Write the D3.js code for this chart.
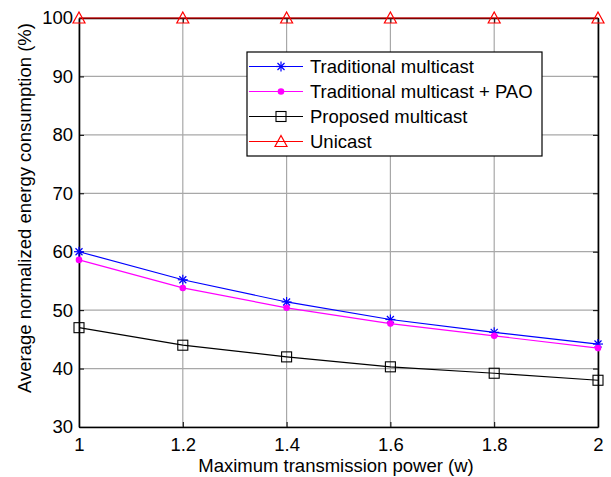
<!DOCTYPE html>
<html lang="en">
<head>
<meta charset="UTF-8">
<title>Energy consumption vs power</title>
<style>
  body { margin: 0; background: #fff; }
  text { font-family: "Liberation Sans", Arial, sans-serif; }
</style>
</head>
<body>
<svg id="chart" width="611" height="477"></svg>
<script src="https://d3js.org/d3.v7.min.js"></script>
<script>
// data
var power = [1, 1.2, 1.4, 1.6, 1.8, 2];
var traditional = [60, 55.2, 51.4, 48.4, 46.2, 44.2];
var traditionalPAO = [58.6, 53.8, 50.4, 47.7, 45.6, 43.5];
var proposed = [47, 44, 42, 40.3, 39.2, 38];
var unicast = [100, 100, 100, 100, 100, 100];
var xTicks = [1, 1.2, 1.4, 1.6, 1.8, 2];
var yTicks = [30, 40, 50, 60, 70, 80, 90, 100];
var names = ["Traditional multicast", "Traditional multicast + PAO", "Proposed multicast", "Unicast"];

var series = [
  {name: names[0], values: traditional, color: "#0000ff", marker: "star"},
  {name: names[1], values: traditionalPAO, color: "#ff00ff", marker: "dot"},
  {name: names[2], values: proposed, color: "#000000", marker: "square"},
  {name: names[3], values: unicast, color: "#ff0000", marker: "triangle"}
];

var svg = d3.select("#chart");
var pLeft = 79, pRight = 598, pTop = 18, pBottom = 427;
var fs = "18.5px";

var x = d3.scaleLinear().domain([1, 2]).range([pLeft, pRight]);
var y = d3.scaleLinear().domain([30, 100]).range([pBottom, pTop]);

// grid
var grid = svg.append("g").attr("stroke", "#a8a8a8").attr("stroke-width", 1.2);
xTicks.forEach(function(t){
  grid.append("line").attr("x1", x(t)).attr("x2", x(t)).attr("y1", pTop).attr("y2", pBottom);
});
yTicks.forEach(function(t){
  grid.append("line").attr("x1", pLeft).attr("x2", pRight).attr("y1", y(t)).attr("y2", y(t));
});

// axes (box with inward ticks)
var xAxis = d3.axisBottom(x).tickValues(xTicks).tickSizeInner(-5).tickSizeOuter(0).tickPadding(11)
  .tickFormat(d3.format("~g"));
var yAxis = d3.axisLeft(y).tickValues(yTicks).tickSizeInner(-5).tickSizeOuter(0).tickPadding(6);
var xTop = d3.axisTop(x).tickValues(xTicks).tickSizeInner(-5).tickSizeOuter(0).tickFormat("");
var yRight = d3.axisRight(y).tickValues(yTicks).tickSizeInner(-5).tickSizeOuter(0).tickFormat("");

function styleAxis(g){
  g.selectAll(".domain").attr("stroke", "#000").attr("stroke-width", 1.6);
  g.selectAll(".tick line").attr("stroke", "#000");
  g.selectAll("text").style("font-size", fs).attr("fill", "#000");
}
svg.append("g").attr("transform", "translate(0," + pTop + ")").call(xTop).call(styleAxis);
svg.append("g").attr("transform", "translate(" + pRight + ",0)").call(yRight).call(styleAxis);
svg.append("g").attr("transform", "translate(0," + pBottom + ")").call(xAxis).call(styleAxis);
svg.append("g").attr("transform", "translate(" + pLeft + ",0)").call(yAxis).call(styleAxis);

// markers
function drawMarker(g, type, color, cx, cy){
  if (type === "star") {
    var p = g.append("g").attr("transform", "translate(" + cx + "," + cy + ")")
      .attr("stroke", color).attr("stroke-width", 1.2);
    p.append("line").attr("x1", -5).attr("x2", 5).attr("y1", 0).attr("y2", 0);
    p.append("line").attr("x1", 0).attr("x2", 0).attr("y1", -5).attr("y2", 5);
    p.append("line").attr("x1", -3.5).attr("x2", 3.5).attr("y1", -3.5).attr("y2", 3.5);
    p.append("line").attr("x1", -3.5).attr("x2", 3.5).attr("y1", 3.5).attr("y2", -3.5);
  } else if (type === "dot") {
    g.append("circle").attr("cx", cx).attr("cy", cy).attr("r", 3.3).attr("fill", color);
  } else if (type === "square") {
    g.append("rect").attr("x", cx - 5).attr("y", cy - 5).attr("width", 10).attr("height", 10)
      .attr("fill", "none").attr("stroke", color).attr("stroke-width", 1.1);
  } else if (type === "triangle") {
    g.append("path").attr("d", "M" + cx + "," + (cy - 6) + "L" + (cx + 6) + "," + (cy + 5) + "L" + (cx - 6) + "," + (cy + 5) + "Z")
      .attr("fill", "none").attr("stroke", color).attr("stroke-width", 1.2);
  }
}

var line = d3.line().x(function(d){ return x(d[0]); }).y(function(d){ return y(d[1]); });
series.forEach(function(s){
  var pts = power.map(function(p, i){ return [p, s.values[i]]; });
  svg.append("path").attr("d", line(pts)).attr("fill", "none")
    .attr("stroke", s.color).attr("stroke-width", 1.2);
  var mg = svg.append("g");
  pts.forEach(function(d){ drawMarker(mg, s.marker, s.color, x(d[0]), y(d[1])); });
});

// legend
var lg = svg.append("g");
lg.append("rect").attr("x", 247).attr("y", 52).attr("width", 295).attr("height", 104)
  .attr("fill", "#fff").attr("stroke", "#000").attr("stroke-width", 1.2);
series.forEach(function(s, i){
  var ly = 66.5 + i * 25;
  lg.append("line").attr("x1", 249).attr("x2", 303).attr("y1", ly).attr("y2", ly)
    .attr("stroke", s.color).attr("stroke-width", 1.2);
  drawMarker(lg, s.marker, s.color, 281, ly);
  lg.append("text").attr("x", 310).attr("y", ly + 6.5).style("font-size", fs).text(s.name);
});

// axis titles
svg.append("text").attr("x", 336).attr("y", 472).attr("text-anchor", "middle")
  .style("font-size", fs).text("Maximum transmission power (w)");
svg.append("text").attr("transform", "translate(31,208) rotate(-90)").attr("text-anchor", "middle")
  .style("font-size", fs).text("Average normalized energy consumption (%)");
</script>
</body>
</html>
